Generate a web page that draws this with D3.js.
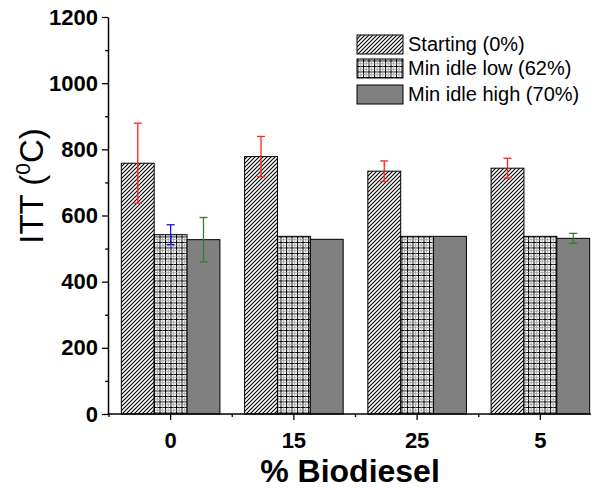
<!DOCTYPE html>
<html><head><meta charset="utf-8">
<script src="https://cdn.jsdelivr.net/npm/d3@7"></script>
<style>body{margin:0;background:#fff}svg{display:block}text{font-family:"Liberation Sans",Arial,sans-serif}</style>
</head><body><svg id="c" width="594" height="490"></svg>
<script>
const categories = ["0", "15", "25", "5"];
const seriesNames = ["Starting (0%)", "Min idle low (62%)", "Min idle high (70%)"];
const starting = [758, 778, 734, 743];
const startingErr = [121, 61, 31, 30];
const minLow = [542, 537, 537, 537];
const minLowErr = [30, 0, 0, 0];
const minHigh = [527, 528, 537, 531];
const minHighErr = [67, 0, 0, 15];
const yTicks = [0, 200, 400, 600, 800, 1000, 1200];

const values = [starting, minLow, minHigh];
const errs = [startingErr, minLowErr, minHighErr];
const errColors = ["#ff2020", "#1010ff", "#2e7d32"];
const fills = ["url(#hatch)", "url(#grid)", "#808080"];

const svg = d3.select("#c");
const L = 108, T = 17, B = 414, Rclip = 591;
const x = d3.scaleBand().domain(categories).range([109, 602]).paddingInner(0.2).paddingOuter(0.1);
const xs = d3.scaleBand().domain(seriesNames).range([0, x.bandwidth()]);
const y = d3.scaleLinear().domain([0, 1200]).range([B, T]);

const defs = svg.append("defs");
const h = defs.append("pattern").attr("id", "hatch").attr("patternUnits", "userSpaceOnUse")
  .attr("width", 4).attr("height", 4);
h.append("rect").attr("width", 4).attr("height", 4).attr("fill", "#fff");
h.append("path").attr("d", "M-1,1 l2,-2 M0,4 l4,-4 M3,5 l2,-2").attr("stroke", "#000").attr("stroke-width", 1.1);
const g = defs.append("pattern").attr("id", "grid").attr("patternUnits", "userSpaceOnUse")
  .attr("width", 5.5).attr("height", 5.5);
g.append("rect").attr("width", 5.5).attr("height", 5.5).attr("fill", "#fff");
g.append("path").attr("d", "M0.5,0 V5.5 M0,0.5 H5.5").attr("stroke", "#000").attr("stroke-width", 1);
g.append("path").attr("d", "M3.25,0 V5.5 M0,3.25 H5.5").attr("stroke", "#999").attr("stroke-width", 0.8);

// bars
seriesNames.forEach((s, si) => {
  svg.append("g").selectAll("rect").data(categories).join("rect")
    .attr("x", c => x(c) + xs(s))
    .attr("y", (c, i) => y(values[si][i]))
    .attr("width", xs.bandwidth())
    .attr("height", (c, i) => B - y(values[si][i]))
    .attr("fill", fills[si]).attr("stroke", "#000").attr("stroke-width", 1);
});
// error bars
seriesNames.forEach((s, si) => {
  const eg = svg.append("g").attr("stroke", errColors[si]).attr("stroke-width", 1.3).attr("fill", "none");
  categories.forEach((c, i) => {
    const e = errs[si][i];
    if (!e) return;
    const cx = x(c) + xs(s) + xs.bandwidth() / 2;
    const v = values[si][i];
    eg.append("line").attr("x1", cx).attr("x2", cx).attr("y1", y(v + e)).attr("y2", y(v - e));
    eg.append("line").attr("x1", cx - 4).attr("x2", cx + 4).attr("y1", y(v + e)).attr("y2", y(v + e));
    eg.append("line").attr("x1", cx - 4).attr("x2", cx + 4).attr("y1", y(v - e)).attr("y2", y(v - e));
  });
});

// y axis
const yAxis = svg.append("g").attr("transform", `translate(${L},0)`)
  .call(d3.axisLeft(y).tickValues(yTicks).tickFormat(d3.format("d")).tickSize(6).tickPadding(4).tickSizeOuter(0));
yAxis.select(".domain").attr("stroke-width", 1.5);
yAxis.selectAll(".tick line").attr("stroke-width", 1.3);
yAxis.selectAll("text").attr("font-size", 22).attr("font-weight", "bold").attr("fill", "#000")
  .attr("font-family", "'Liberation Sans',Arial,sans-serif");
svg.append("g").attr("transform", `translate(${L},0)`)
  .call(d3.axisLeft(y).tickValues(d3.range(100, 1200, 200)).tickSize(3).tickFormat("").tickSizeOuter(0))
  .call(a => a.select(".domain").remove()).selectAll("line").attr("stroke-width", 1.3);

// x axis
svg.append("line").attr("x1", L).attr("x2", Rclip).attr("y1", B).attr("y2", B).attr("stroke", "#000").attr("stroke-width", 1.5);
const xg = svg.append("g");
xg.selectAll("line.maj").data(categories).join("line").attr("class", "maj")
  .attr("x1", c => x(c) + x.bandwidth() / 2).attr("x2", c => x(c) + x.bandwidth() / 2)
  .attr("y1", B).attr("y2", B + 6).attr("stroke", "#000").attr("stroke-width", 1.3);
xg.selectAll("line.min").data(categories).join("line").attr("class", "min")
  .attr("x1", c => x(c) - x.step() * x.paddingInner() / 2).attr("x2", c => x(c) - x.step() * x.paddingInner() / 2)
  .attr("y1", B).attr("y2", B + 3).attr("stroke", "#000").attr("stroke-width", 1.3);
xg.selectAll("text").data(categories).join("text")
  .attr("x", c => x(c) + x.bandwidth() / 2).attr("y", 448)
  .attr("text-anchor", "middle").attr("font-size", 22).attr("font-weight", "bold").text(c => c);

// titles
svg.append("text").attr("x", 350).attr("y", 482).attr("text-anchor", "middle")
  .attr("font-size", 32).attr("font-weight", "bold").text("% Biodiesel");
const yt = svg.append("text").attr("transform", "translate(43,186) rotate(-90)").attr("text-anchor", "middle")
  .attr("font-size", 33);
yt.append("tspan").text("ITT (");
yt.append("tspan").attr("font-size", 21).attr("dy", -13).text("0");
yt.append("tspan").attr("dy", 13).text("C)");

// legend
const legY = [35, 59, 85];
const lg = svg.append("g");
seriesNames.forEach((s, si) => {
  lg.append("rect").attr("x", 357).attr("y", legY[si]).attr("width", 46).attr("height", 19)
    .attr("fill", fills[si]).attr("stroke", "#000").attr("stroke-width", 1);
  lg.append("text").attr("x", 408).attr("y", legY[si] + 16).attr("font-size", 20).text(s);
});
</script></body></html>
